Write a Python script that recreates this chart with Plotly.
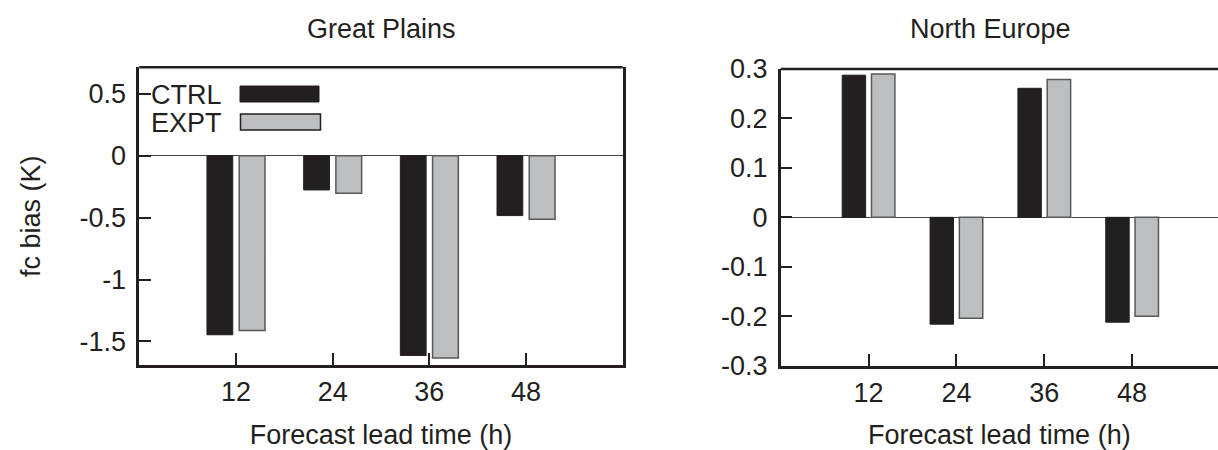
import plotly.graph_objects as go

# ---- data ----
lead_times = [12, 24, 36, 48]
gp_ctrl = [-1.446, -0.277, -1.613, -0.484]
gp_expt = [-1.411, -0.303, -1.634, -0.513]
ne_ctrl = [0.2875, -0.216, 0.261, -0.212]
ne_expt = [0.290, -0.204, 0.279, -0.200]

gp_ytickvals = [-1.5, -1.0, -0.5, 0.0, 0.5]
gp_yticktext = ["-1.5", "-1", "-0.5", "0", "0.5"]
ne_ytickvals = [-0.3, -0.2, -0.1, 0.0, 0.1, 0.2, 0.3]
ne_yticktext = ["-0.3", "-0.2", "-0.1", "0", "0.1", "0.2", "0.3"]
xtick_text = ["12", "24", "36", "48"]

titles = ["Great Plains", "North Europe"]
series_names = ["CTRL", "EXPT"]

# ---- style ----
W, H = 1218, 450
INK = "#231f20"
GRAY = "#bcbec0"
GRAY_EDGE = "#58585a"
FONT = "Liberation Sans, Arial, Helvetica, sans-serif"
FS = 27

fig = go.Figure()

fig.add_trace(go.Bar(x=lead_times, y=gp_ctrl, name=series_names[0], xaxis="x", yaxis="y",
                     marker=dict(color=INK, line=dict(color=INK, width=1)), showlegend=False))
fig.add_trace(go.Bar(x=lead_times, y=gp_expt, name=series_names[1], xaxis="x", yaxis="y",
                     marker=dict(color=GRAY, line=dict(color=GRAY_EDGE, width=1.5)), showlegend=False))
fig.add_trace(go.Bar(x=lead_times, y=ne_ctrl, name=series_names[0], xaxis="x2", yaxis="y2",
                     marker=dict(color=INK, line=dict(color=INK, width=1)), showlegend=False))
fig.add_trace(go.Bar(x=lead_times, y=ne_expt, name=series_names[1], xaxis="x2", yaxis="y2",
                     marker=dict(color=GRAY, line=dict(color=GRAY_EDGE, width=1.5)), showlegend=False))


def px_x(p):
    return p / W


def px_y(p):
    return (H - p) / H


axis_common = dict(
    showline=True, linecolor=INK, linewidth=2.5,
    ticks="inside", ticklen=12, tickwidth=2, tickcolor=INK,
    showgrid=False, automargin=False,
    tickfont=dict(family=FONT, size=FS, color=INK),
)

xaxis_common = dict(axis_common, zeroline=False, mirror=False,
                    tickvals=lead_times, ticktext=xtick_text,
                    ticklabelstandoff=1,
                    title=dict(text="Forecast lead time (h)",
                               font=dict(family=FONT, size=FS, color=INK), standoff=25))

fig.update_layout(
    width=W, height=H,
    margin=dict(l=0, r=0, t=0, b=0),
    paper_bgcolor="white", plot_bgcolor="white",
    barmode="group", bargap=1/3, bargroupgap=0.2,
    font=dict(family=FONT, size=FS, color=INK),
    xaxis=dict(xaxis_common, domain=[px_x(139.3), px_x(622.7)], range=[0, 60], anchor="y"),
    yaxis=dict(axis_common, domain=[px_y(365), px_y(67.3)], range=[-1.69, 0.713],
               mirror=True, zeroline=True, zerolinecolor="#444", zerolinewidth=1.2,
               tickvals=gp_ytickvals, ticktext=gp_yticktext, ticklabelstandoff=5,
               anchor="x",
               title=dict(text="fc bias (K)", font=dict(family=FONT, size=FS, color=INK), standoff=32)),
    xaxis2=dict(xaxis_common, domain=[px_x(780.7), 1.0], range=[0, 59.73], anchor="y2"),
    yaxis2=dict(axis_common, domain=[px_y(365.7), px_y(69)], range=[-0.3, 0.3],
                mirror=True, zeroline=True, zerolinecolor="#444", zerolinewidth=1.2,
                tickvals=ne_ytickvals, ticktext=ne_yticktext, ticklabelstandoff=5,
                anchor="x2"),
)

# top borders (no ticks on top)
for xr, yr in [("x domain", "y domain"), ("x2 domain", "y2 domain")]:
    fig.add_shape(type="line", xref=xr, yref=yr, x0=0, x1=1, y0=1, y1=1,
                  line=dict(color=INK, width=2.5))

# subplot titles
fig.add_annotation(text=titles[0], xref="paper", yref="paper", x=px_x(381), y=px_y(29),
                   xanchor="center", yanchor="middle", showarrow=False,
                   font=dict(family=FONT, size=FS, color=INK))
fig.add_annotation(text=titles[1], xref="paper", yref="paper", x=px_x(990), y=px_y(29),
                   xanchor="center", yanchor="middle", showarrow=False,
                   font=dict(family=FONT, size=FS, color=INK))

# custom key (text left, long swatch right) inside the left panel
fig.add_annotation(text=series_names[0], xref="paper", yref="paper", x=px_x(149), y=px_y(95),
                   xanchor="left", yanchor="middle", showarrow=False,
                   font=dict(family=FONT, size=FS, color=INK))
fig.add_annotation(text=series_names[1], xref="paper", yref="paper", x=px_x(149), y=px_y(123),
                   xanchor="left", yanchor="middle", showarrow=False,
                   font=dict(family=FONT, size=FS, color=INK))
fig.add_shape(type="rect", xref="paper", yref="paper",
              x0=px_x(240), x1=px_x(319), y0=px_y(102), y1=px_y(86),
              fillcolor=INK, line=dict(color=INK, width=1))
fig.add_shape(type="rect", xref="paper", yref="paper",
              x0=px_x(240.5), x1=px_x(320.5), y0=px_y(130), y1=px_y(114),
              fillcolor=GRAY, line=dict(color=INK, width=1.5))

fig.write_html("out.html")
